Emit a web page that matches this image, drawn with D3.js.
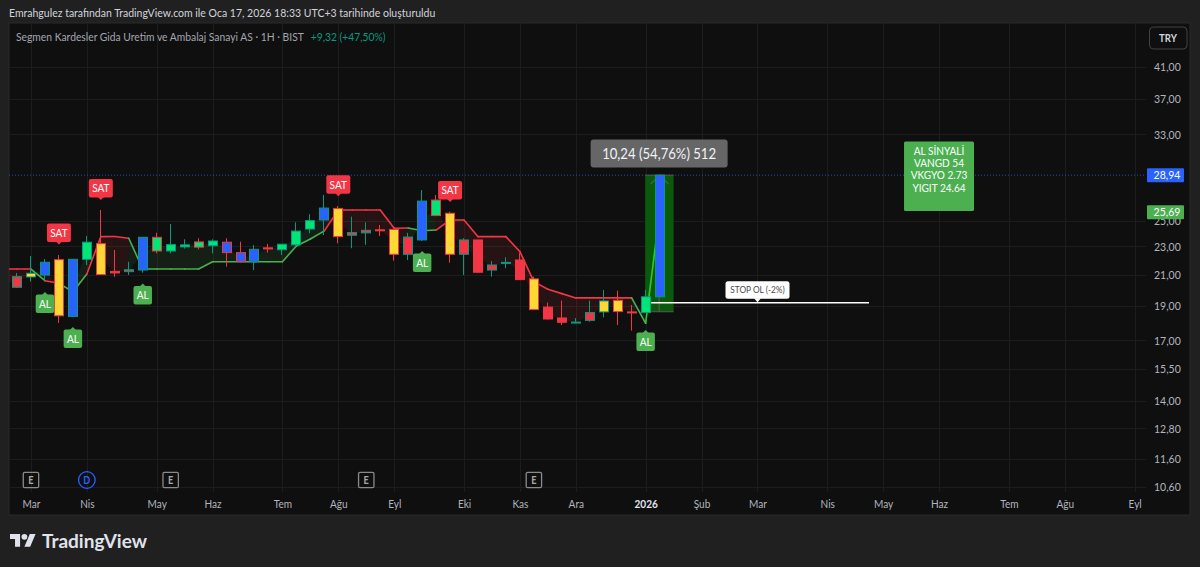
<!DOCTYPE html>
<html>
<head>
<meta charset="utf-8">
<script src="https://cdn.jsdelivr.net/npm/d3@7"></script>
<style>
  html, body { margin: 0; padding: 0; background: #202020; overflow: hidden; }
  text { font-family: Lato, sans-serif; }
</style>
</head>
<body>
<div id="chart"></div>
<script>
// weekly candles
const opens  = [20.17,20.85,20.98,22.04,18.36,22.07,23.21,21.23,21.21,21.32,23.69,22.67,22.97,23.34,23.06,23.32,22.55,21.90,22.90,22.76,23.12,24.33,25.05,26.00,23.85,24.03,24.27,24.30,22.43,23.49,26.71,25.60,22.43,23.49,21.32,21.81,22.02,20.72,18.92,18.27,18.00,18.13,18.63,19.34,18.63,18.59,19.56]
const closes = [20.87,21.10,21.86,18.40,22.07,23.32,21.01,21.12,21.34,23.69,22.67,23.14,23.12,22.95,23.41,22.55,21.90,22.79,22.82,23.17,24.17,25.00,26.03,23.74,24.05,24.23,24.23,22.43,23.71,26.62,25.41,22.43,23.49,21.17,21.67,21.85,20.67,18.77,18.21,18.02,18.03,18.59,19.30,18.65,18.57,19.56,28.94]
const highs  = [21.12,22.30,22.09,22.38,22.09,23.79,25.87,22.74,21.90,23.71,24.04,24.73,23.54,23.62,23.54,23.62,23.36,23.11,23.19,23.19,24.86,25.52,27.15,26.20,25.32,24.86,24.65,24.33,24.03,27.59,27.15,25.73,23.62,23.49,21.95,22.21,22.52,20.87,19.20,19.32,18.27,19.32,19.99,19.95,19.05,19.99,28.94]
const lows   = [20.12,20.54,20.65,17.98,18.34,21.67,20.98,20.85,20.98,21.14,22.50,22.50,22.84,22.79,22.50,21.55,21.88,21.32,22.55,22.38,22.97,24.00,23.87,23.24,22.87,23.12,23.79,21.97,22.02,23.41,25.36,21.83,20.98,21.17,20.87,21.44,20.65,18.75,18.18,17.86,17.96,18.05,18.31,17.86,17.54,18.57,19.56]
const barKinds = "r y b y b g y r r b g g g g g b b b r g g g b y r r r y r b g y r r r r r y r r r r y y r g b".split(" ")

// trend line, first value is the bar before the visible ones
const trendValues = [21.39,21.39,21.39,20.60,20.43,19.87,21.05,23.74,23.75,23.62,21.39,21.39,21.39,21.39,21.39,21.90,21.90,21.90,21.90,21.90,21.90,23.04,23.56,24.19,25.87,25.87,25.87,25.87,24.39,24.41,24.19,24.25,25.05,25.05,23.74,23.74,23.74,22.62,20.54,20.04,19.76,19.49,19.49,19.49,19.49,19.49,17.96,25.69]
const trendSides = ["s","s","s","b","s","b","b","s","s","s","b","b","b","b","b","b","b","b","b","b","b","b","b","b","s","s","s","s","s","s","b","b","s","s","s","s","s","s","s","s","s","s","s","s","s","s","b","b"]

const satBars = [3, 6, 23, 31]
const satPrices = [23.14, 26.71, 27.03, 26.54]
const alBars = [2, 4, 9, 29, 45]
const alPrices = [19.87, 17.75, 20.41, 22.67, 17.58]

const priceTicks = [41, 37, 33, 25, 23, 21, 19, 17, 15.5, 14, 12.8, 11.6, 10.6]
const timeTicks = [1, 5, 10, 14, 19, 23, 27, 32, 36, 40, 45, 49, 53, 58, 62, 66, 71, 75, 80]
const timeLabels = ["Mar","Nis","May","Haz","Tem","Ağu","Eyl","Eki","Kas","Ara","2026","Şub","Mar","Nis","May","Haz","Tem","Ağu","Eyl"]
const eventBars = [1, 5, 11, 25, 37]
const eventTypes = ["E", "D", "E", "E", "E"]

const lastPrice = 28.94
const trendPrice = 25.69
const measureFrom = 18.64
const measureLabel = "10,24 (54,76%) 512"
const stopPrice = 19.19
const stopLabel = "STOP OL (-2%)"
const noteLines = ["AL SİNYALİ", "VANGD 54", "VKGYO 2.73", "YIGIT 24.64"]

const titleText = "Emrahgulez tarafından TradingView.com ile Oca 17, 2026 18:33 UTC+3 tarihinde oluşturuldu"
const legendText = "Segmen Kardesler Gida Uretim ve Ambalaj Sanayi AS · 1H · BIST"
const legendChange = "+9,32 (+47,50%)"

const kindColor = {r: "#f23645", g: "#00e676", y: "#fdd835", b: "#2962ff"}
const upColor = "#089981", downColor = "#f23645"
const buyGreen = "#4caf50"
const textGrey = "#b2b5be"

const width = 1200, height = 567
const pane = {left: 9, right: 1146, top: 23, bottom: 492, outerRight: 1190, outerBottom: 515}

const svg = d3.select("#chart").append("svg")
  .attr("width", width).attr("height", height)
  .style("display", "block")

const x = d3.scaleLinear().domain([0, 80]).range([17, 1134.6])
const y = d3.scaleLog().domain([41, 10.6]).range([67, 487])
const priceFormat = d3.formatLocale({decimal: ",", thousands: ".", grouping: [3], currency: ["", ""]}).format(".2f")

svg.append("rect").attr("width", width).attr("height", height).attr("fill", "#202020")
svg.append("rect")
  .attr("x", pane.left).attr("y", pane.top)
  .attr("width", pane.outerRight - pane.left).attr("height", pane.outerBottom - pane.top)
  .attr("fill", "#0f0f0f").attr("stroke", "#2b2b2b")

svg.append("defs").append("clipPath").attr("id", "pane-clip").append("rect")
  .attr("x", pane.left).attr("y", pane.top)
  .attr("width", pane.right - pane.left).attr("height", pane.bottom - pane.top)

// grid
const grid = svg.append("g").attr("stroke", "#1d1d1d").attr("stroke-width", 1)
grid.selectAll(".h").data(priceTicks).join("line")
  .attr("x1", pane.left).attr("x2", pane.right)
  .attr("y1", d => Math.round(y(d)) + 0.5).attr("y2", d => Math.round(y(d)) + 0.5)
grid.selectAll(".v").data(timeTicks).join("line")
  .attr("x1", d => Math.round(x(d)) + 0.5).attr("x2", d => Math.round(x(d)) + 0.5)
  .attr("y1", pane.top).attr("y2", pane.bottom)

// axes
const yAxis = svg.append("g")
  .attr("transform", "translate(" + pane.right + ",0)")
  .call(d3.axisRight(y).tickValues(priceTicks).tickFormat(priceFormat).tickSize(0).tickPadding(8))
yAxis.select(".domain").remove()
yAxis.selectAll("text").attr("fill", textGrey).style("font-size", "12px").style("font-family", "Lato, sans-serif")

const xAxis = svg.append("g")
  .attr("transform", "translate(0," + pane.bottom + ")")
  .call(d3.axisBottom(x).tickValues(timeTicks).tickFormat((d, i) => timeLabels[i]).tickSize(0).tickPadding(7.5))
xAxis.select(".domain").remove()
xAxis.selectAll("text")
  .attr("fill", (d, i) => timeLabels[i] === "2026" ? "#e0e3eb" : textGrey)
  .style("font-size", "11.5px")
  .style("font-weight", (d, i) => timeLabels[i] === "2026" ? "700" : "400")
  .style("font-family", "Lato, sans-serif")

const plot = svg.append("g").attr("clip-path", "url(#pane-clip)")

// last price dotted line
plot.append("line")
  .attr("x1", pane.left).attr("x2", pane.right)
  .attr("y1", y(lastPrice)).attr("y2", y(lastPrice))
  .attr("stroke", "#2962ff").attr("stroke-opacity", 0.7).attr("stroke-dasharray", "1 2")

// measure box behind the last bar
const boxLeft = x(45) - 0.5, boxRight = x(47)
plot.append("rect")
  .attr("x", boxLeft).attr("y", y(lastPrice))
  .attr("width", boxRight - boxLeft).attr("height", y(measureFrom) - y(lastPrice))
  .attr("fill", "#0b5a0b")
plot.selectAll(".measure-edge").data([lastPrice, measureFrom]).join("line")
  .attr("x1", boxLeft).attr("x2", boxRight)
  .attr("y1", d => y(d)).attr("y2", d => y(d))
  .attr("stroke", "#5a5a5a")
plot.append("line")
  .attr("x1", x(46) - 0.5).attr("x2", x(46) - 0.5)
  .attr("y1", y(lastPrice)).attr("y2", y(measureFrom))
  .attr("stroke", "#5a5a5a").attr("stroke-width", 1.2)
plot.append("path")
  .attr("d", d3.line()([[x(46) - 9, y(lastPrice) + 9], [x(46), y(lastPrice)], [x(46) + 9, y(lastPrice) + 9]]))
  .attr("fill", "none").attr("stroke", "#5a5a5a").attr("stroke-width", 1.2)

// trend band and line, bar index is offset by one because of the leading value
const trendX = i => x(i - 1)
const bodyMid = i => {
  const b = Math.max(i - 1, 0)
  return Math.sqrt(opens[b] * closes[b])
}
const bands = plot.append("g")
const lines = plot.append("g").attr("fill", "none").attr("stroke-width", 1.6)
trendValues.forEach((v, i) => {
  if (i === 0) return
  const side = trendSides[i]
  bands.append("path")
    .attr("d", d3.line()([
      [trendX(i - 1), y(trendValues[i - 1])],
      [trendX(i), y(v)],
      [trendX(i), y(bodyMid(i))],
      [trendX(i - 1), y(bodyMid(i - 1))]
    ]) + "Z")
    .attr("fill", side === "b" ? "#4caf50" : "#f23645")
    .attr("fill-opacity", 0.1)
})
trendValues.forEach((v, i) => {
  if (i === 0) return
  const side = trendSides[i]
  lines.append("line")
    .attr("x1", trendX(i - 1)).attr("y1", y(trendValues[i - 1]))
    .attr("x2", trendX(i)).attr("y2", y(v))
    .attr("stroke-linecap", "round")
    .attr("stroke", side === "b" ? (i === trendValues.length - 1 ? "#2fc837" : buyGreen) : downColor)
})

// stop line
plot.append("line")
  .attr("x1", x(45) + 5.5).attr("x2", 869)
  .attr("y1", y(stopPrice)).attr("y2", y(stopPrice))
  .attr("stroke", "#ffffff").attr("stroke-width", 1.5)

// candles
const bars = plot.append("g").selectAll("g").data(opens).join("g")
bars.append("line")
  .attr("x1", (d, i) => Math.round(x(i)) - 0.5).attr("x2", (d, i) => Math.round(x(i)) - 0.5)
  .attr("y1", (d, i) => y(highs[i])).attr("y2", (d, i) => y(lows[i]))
  .attr("stroke", (d, i) => closes[i] >= opens[i] ? upColor : downColor)
bars.append("rect")
  .attr("x", (d, i) => Math.round(x(i)) - 4.5).attr("width", 9)
  .attr("y", (d, i) => y(Math.max(opens[i], closes[i])))
  .attr("height", (d, i) => Math.max(1, Math.abs(y(opens[i]) - y(closes[i]))))
  .attr("fill", (d, i) => kindColor[barKinds[i]])
  .attr("stroke", (d, i) => closes[i] >= opens[i] ? upColor : downColor)
  .attr("stroke-width", 1)

// signal labels, tip sits on the price
function drawSignal(bar, price, label, color, w, below) {
  const cx = x(bar), tip = y(price), h = 18.5
  const g = svg.append("g")
  const top = below ? tip + 2.5 : tip - 2.5 - h
  g.append("rect").attr("x", cx - w / 2).attr("y", top).attr("width", w).attr("height", h).attr("rx", 2).attr("fill", color)
  const edge = below ? tip + 3 : tip - 3
  g.append("path").attr("d", d3.line()([[cx - 3, edge], [cx, tip], [cx + 3, edge]]) + "Z").attr("fill", color)
  g.append("text").attr("x", cx).attr("y", top + h / 2 + 4)
    .attr("text-anchor", "middle").attr("fill", "#ffffff").style("font-size", "11.5px").text(label)
}
satBars.forEach((b, i) => drawSignal(b, satPrices[i], "SAT", downColor, 24, false))
alBars.forEach((b, i) => drawSignal(b, alPrices[i], "AL", buyGreen, 18.5, true))

// measure label
const measureX = x(46) - 0.5
svg.append("rect").attr("x", measureX - 68.5).attr("y", 139.5).attr("width", 137).attr("height", 28).attr("rx", 3).attr("fill", "#666666")
svg.append("text").attr("x", measureX).attr("y", 158.5)
  .attr("text-anchor", "middle").attr("fill", "#f0f3fa").style("font-size", "15px").text(measureLabel)

// stop label
const stopY = y(stopPrice)
svg.append("rect").attr("x", 725.5).attr("y", stopY - 21.5).attr("width", 64).attr("height", 17.5).attr("rx", 2.5).attr("fill", "#ffffff")
svg.append("path").attr("d", d3.line()([[754, stopY - 4.5], [757.5, stopY - 0.5], [761, stopY - 4.5]]) + "Z").attr("fill", "#ffffff")
svg.append("text").attr("x", 757.5).attr("y", stopY - 9.5)
  .attr("text-anchor", "middle").attr("fill", "#4a4a4a").style("font-size", "9.5px").text(stopLabel)

// signal note
const noteX = x(66)
svg.append("rect").attr("x", noteX - 35).attr("y", 141.5).attr("width", 70).attr("height", 69.5).attr("rx", 1.5).attr("fill", buyGreen)
svg.selectAll(".note").data(noteLines).join("text")
  .attr("x", noteX).attr("y", (d, i) => 155 + i * 12.2)
  .attr("text-anchor", "middle").attr("fill", "#ffffff").style("font-size", "11.5px").text(d => d)

// price labels on the axis
const priceTags = [[lastPrice, "#2962ff"], [trendPrice, buyGreen]]
priceTags.forEach(([price, color]) => {
  const py = y(price)
  svg.append("rect").attr("x", pane.right + 1).attr("y", py - 7).attr("width", 37).attr("height", 14).attr("rx", 1).attr("fill", color)
  svg.append("text").attr("x", pane.right + 21).attr("y", py + 4.2)
    .attr("text-anchor", "middle").attr("fill", "#ffffff").style("font-size", "12px").text(priceFormat(price))
})

// earnings and dividend badges
eventBars.forEach((b, i) => {
  const cx = x(b), cy = 480
  if (eventTypes[i] === "D") {
    svg.append("circle").attr("cx", cx).attr("cy", cy).attr("r", 8.3).attr("fill", "none").attr("stroke", "#2962ff").attr("stroke-width", 1.3)
  } else {
    svg.append("rect").attr("x", cx - 7.7).attr("y", cy - 7.7).attr("width", 15.4).attr("height", 15.4).attr("rx", 1.5)
      .attr("fill", "none").attr("stroke", "#8a8a8a").attr("stroke-width", 1.3)
  }
  svg.append("text").attr("x", cx).attr("y", cy + 3.8).attr("text-anchor", "middle")
    .attr("fill", eventTypes[i] === "D" ? "#2962ff" : "#a8a8a8")
    .style("font-size", "10.5px").style("font-weight", "700").text(eventTypes[i])
})

// header and legend
svg.append("text").attr("x", 9).attr("y", 17).attr("fill", "#d1d4dc").style("font-size", "12px").text(titleText)
const legend = svg.append("text").attr("x", 16).attr("y", 41).style("font-size", "12px")
legend.append("tspan").attr("fill", "#a3a6af").text(legendText)
legend.append("tspan").attr("dx", 8).attr("fill", upColor).text(legendChange)

// currency button
svg.append("rect").attr("x", 1149.5).attr("y", 27).attr("width", 37.5).attr("height", 22).attr("rx", 4)
  .attr("fill", "#0f0f0f").attr("stroke", "#434343")
svg.append("text").attr("x", 1168).attr("y", 42).attr("text-anchor", "middle")
  .attr("fill", "#d1d4dc").style("font-size", "11px").style("font-weight", "700").text("TRY")

// the screenshot font is narrower than Lato, squeeze everything so far
svg.selectAll("text").each(function() {
  const t = d3.select(this)
  t.attr("lengthAdjust", "spacingAndGlyphs").attr("textLength", this.getComputedTextLength() * 0.875)
})

// logo
svg.append("path")
  .attr("transform", "translate(10,531) scale(0.72)")
  .attr("d", "M14 22H7V11H0V4h14v18zM28 22h-8l7.5-18h8L28 22z")
  .attr("fill", "#e0e3eb")
svg.append("circle").attr("cx", 10 + 20 * 0.72).attr("cy", 531 + 8 * 0.72).attr("r", 4 * 0.72).attr("fill", "#e0e3eb")
svg.append("text").attr("x", 42).attr("y", 547.5)
  .attr("fill", "#e0e3eb").style("font-size", "19px").style("font-weight", "700").text("TradingView")
</script>
</body>
</html>
